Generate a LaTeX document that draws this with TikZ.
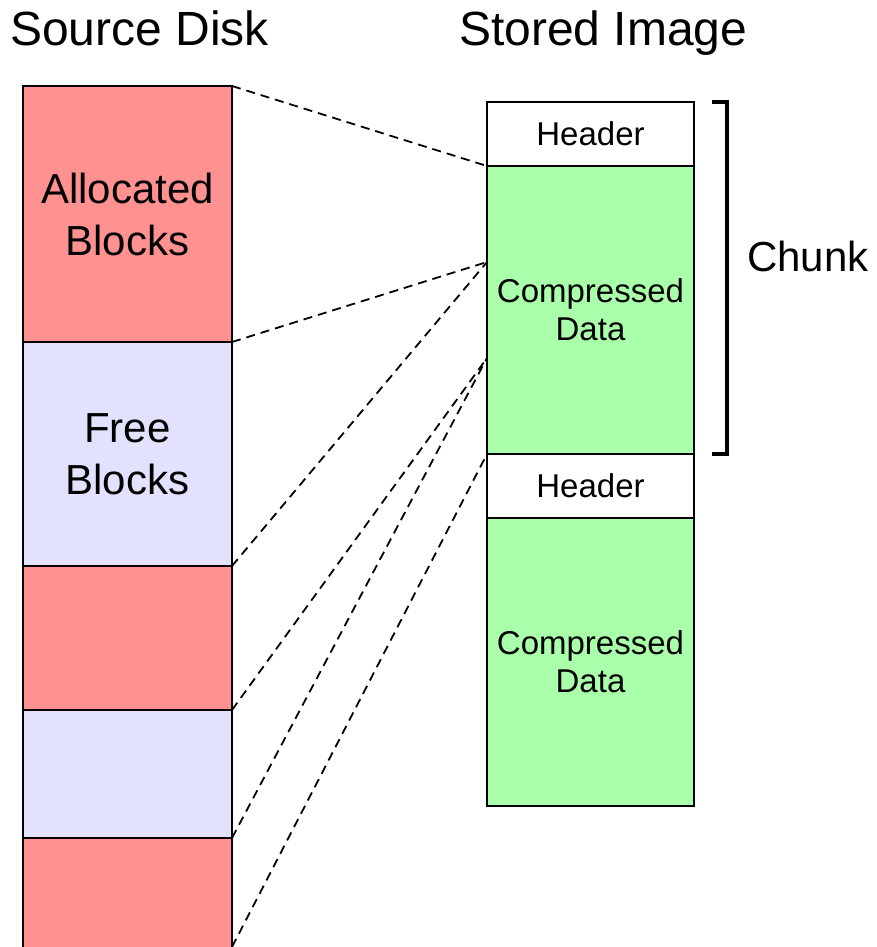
\documentclass[tikz,border=0pt]{standalone}
\usepackage{fontspec}
\setmainfont{Liberation Sans}
\usetikzlibrary{calc}
\definecolor{allocred}{RGB}{255,145,145}
\definecolor{freeblue}{RGB}{226,226,255}
\definecolor{compgreen}{RGB}{170,255,170}
\begin{document}
\begin{tikzpicture}[x=1pt,y=-1pt,
  blk/.style={draw=black,line width=2pt,rectangle,inner sep=0pt,outer sep=0pt,align=center},
  diskblk/.style={blk,minimum width=209pt,font=\fontsize{42}{52}\selectfont},
  imgblk/.style={blk,minimum width=207pt,font=\fontsize{33}{38}\selectfont},
  link/.style={draw=black,line width=1.8pt,dash pattern=on 9pt off 6pt},
  title/.style={anchor=base west,inner sep=0pt,font=\fontsize{48}{56}\selectfont}]
\useasboundingbox (0,0) rectangle (876,947);
\begin{scope}
\clip (0,0) rectangle (876,947);
% source disk column (the last block runs on past the lower edge)
\node[diskblk,fill=allocred,minimum height=256pt] (a1) at (127.5,214) {Allocated\\Blocks};
\node[diskblk,fill=freeblue,minimum height=224pt] (f1) at (127.5,454) {Free\\Blocks};
\node[diskblk,fill=allocred,minimum height=144pt] (a2) at (127.5,638) {};
\node[diskblk,fill=freeblue,minimum height=128pt] (f2) at (127.5,774) {};
\node[diskblk,fill=allocred,minimum height=122pt] (a3) at (127.5,899) {};
% stored image column
\node[imgblk,fill=white,minimum height=64pt] (h1) at (590.5,134) {Header};
\node[imgblk,fill=compgreen,minimum height=288pt] (c1) at (590.5,310) {Compressed\\Data};
\node[imgblk,fill=white,minimum height=64pt] (h2) at (590.5,486) {Header};
\node[imgblk,fill=compgreen,minimum height=288pt] (c2) at (590.5,662) {Compressed\\Data};
% mapping points on the first compressed block
\coordinate (p1) at ($(c1.north west)!1/3!(c1.south west)$);
\coordinate (p2) at ($(c1.north west)!2/3!(c1.south west)$);
\coordinate (a3end) at ($(a3.north east)!109/122!(a3.south east)$);
\draw[link] (a1.north east) -- (c1.north west);
\draw[link] (a1.south east) -- (p1);
\draw[link] (f1.south east) -- (p1);
\draw[link] (a2.south east) -- (p2);
\draw[link] (f2.south east) -- (p2);
\draw[link] (a3end) -- (c1.south west);
\end{scope}
% chunk bracket
\draw[line width=4pt] (712,102) -| (727,454) -- (712,454);
\node[anchor=west,inner sep=0pt,font=\fontsize{42}{50}\selectfont] (chunk) at (747,256) {Chunk};
% titles
\node[title] (src) at (10,46) {Source Disk};
\node[title] (img) at (459,46) {Stored Image};
\end{tikzpicture}
\end{document}
